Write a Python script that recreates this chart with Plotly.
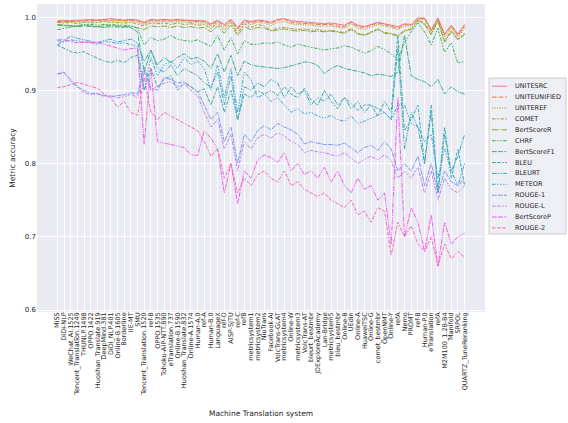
import math
import plotly.graph_objects as go

systems = [
    "MiSS", "DiDi-NLP", "WeChat_AI.1525", "Tencent_Translation.1249", "THUNLP.1498",
    "OPPO.1422", "Huoshan_Translate.919", "DeepMind.381", "DiDi_NLP.401", "Online-B.1605",
    "Borderline", "IIE-MT", "SMU", "Tencent_Translation.1520", "ref-B",
    "OPPO.1535", "Tohoku-AIP-NTT.890", "eTranslation.737", "Online-B.1590", "Huoshan_Translate.832",
    "Online-A.1574", "Human-A.0", "ref-A", "Human-B.0", "LanguageX",
    "ref-D", "AISP-SJTU", "ref-C", "refB", "metricsystem1",
    "metricsystem2", "NiuTrans", "Facebook-AI", "VolcTrans-GLAT", "metricsystem4",
    "Online-W", "metricsystem3", "VolcTrans-AT", "bleurt_bestmbr", "JDExploreAcademy",
    "Lan-Bridge", "metricsystem5", "bleu_bestmbr", "Online-B", "UEdin",
    "Online-A", "HuaweiTSC", "Online-G", "comet_bestmbr", "OpenNMT",
    "Online-Y", "refA", "Nemo", "PROMT", "ref-B",
    "Human-P.0", "eTranslation", "refA", "M2M100_1.2B-B4", "Manifold",
    "SRPOL", "QUARTZ_TuneReranking",
]

unitesrc = [
    .995, .995, .996, .996, .996, .997, .996, .997, .998, .997,
    .996, .997, .996, .993, .997, .996, .997, .996, .997, .996,
    .996, .995, .995, .991, .996, .990, .997, .986, .996, .994,
    .996, .995, .993, .997, .998, .995, .994, .993, .993, .992,
    .991, .992, .990, .989, .994, .989, .987, .990, .993, .991,
    .989, .987, .991, .990, .999, .998, .982, .999, .977, .989,
    .977, .990,
]
uniteunified = [
    .994, .994, .995, .994, .996, .995, .996, .996, .997, .996,
    .995, .996, .995, .992, .996, .995, .996, .995, .996, .995,
    .995, .994, .994, .989, .995, .988, .996, .984, .995, .992,
    .995, .994, .991, .996, .997, .993, .992, .992, .991, .990,
    .990, .990, .988, .987, .993, .987, .986, .989, .992, .990,
    .987, .985, .990, .989, .998, .999, .983, .998, .976, .988,
    .975, .988,
]
uniteref = [
    .993, .993, .994, .993, .994, .994, .995, .995, .995, .994,
    .994, .995, .993, .990, .994, .993, .994, .993, .994, .993,
    .993, .992, .992, .987, .993, .986, .994, .982, .993, .990,
    .993, .992, .988, .993, .994, .991, .990, .990, .989, .988,
    .988, .988, .986, .985, .991, .985, .983, .987, .990, .988,
    .985, .983, .988, .988, .997, .997, .981, .997, .973, .986,
    .973, .985,
]
comet = [
    .993, .992, .993, .991, .993, .992, .993, .994, .993, .992,
    .992, .993, .990, .988, .992, .991, .992, .990, .992, .990,
    .991, .989, .990, .984, .992, .982, .993, .978, .991, .986,
    .990, .988, .982, .985, .986, .984, .983, .984, .982, .983,
    .981, .982, .980, .979, .985, .978, .976, .980, .984, .979,
    .978, .975, .982, .984, .996, .992, .978, .996, .968, .982,
    .970, .978,
]
bertscore_r = [
    .990, .989, .988, .988, .989, .988, .987, .988, .989, .988,
    .987, .988, .986, .983, .988, .987, .988, .986, .988, .986,
    .987, .985, .986, .980, .988, .978, .989, .975, .987, .983,
    .986, .985, .981, .983, .984, .982, .981, .982, .980, .981,
    .980, .981, .979, .978, .983, .977, .975, .979, .983, .978,
    .977, .974, .981, .983, .995, .990, .976, .994, .966, .980,
    .969, .976,
]
chrf = [
    .983, .985, .987, .989, .990, .990, .989, .990, .990, .990,
    .989, .988, .985, .962, .972, .968, .970, .975, .970, .968,
    .967, .969, .965, .960, .975, .955, .972, .950, .968, .963,
    .963, .965, .964, .966, .962, .959, .963, .961, .959, .956,
    .955, .957, .958, .961, .959, .955, .951, .954, .960, .956,
    .950, .941, .965, .980, .992, .980, .962, .985, .952, .965,
    .937, .940,
]
bertscore_f1 = [
    .989, .988, .988, .987, .988, .987, .987, .986, .987, .987,
    .986, .986, .980, .925, .955, .935, .945, .938, .945, .950,
    .943, .945, .940, .930, .950, .925, .948, .920, .940, .935,
    .933, .932, .932, .930, .931, .933, .936, .939, .938, .934,
    .923, .930, .934, .930, .928, .925, .924, .920, .922, .921,
    .919, .925, .975, .920, .915, .912, .905, .915, .895, .905,
    .898, .895,
]
bleu = [
    .962, .958, .953, .951, .953, .948, .944, .940, .938, .941,
    .938, .945, .948, .900, .930, .905, .915, .920, .900, .910,
    .905, .898, .902, .880, .905, .870, .900, .860, .895, .890,
    .900, .895, .900, .893, .905, .895, .890, .903, .887, .880,
    .900, .885, .875, .890, .882, .873, .880, .880, .865, .885,
    .870, .975, .845, .860, .880, .800, .880, .760, .850, .780,
    .820, .770,
]
bleurt = [
    .962, .968, .974, .971, .969, .967, .965, .968, .970, .966,
    .968, .970, .965, .940, .955, .930, .925, .935, .920, .930,
    .925, .920, .910, .905, .925, .880, .920, .860, .905, .900,
    .910, .905, .915, .910, .890, .905, .895, .900, .880, .890,
    .885, .895, .880, .890, .875, .885, .870, .880, .875, .870,
    .860, .960, .820, .870, .850, .800, .870, .760, .840, .790,
    .810, .840,
]
meteor = [
    .968, .966, .969, .968, .967, .965, .963, .967, .966, .964,
    .965, .963, .960, .900, .945, .920, .935, .940, .930, .945,
    .935, .940, .930, .900, .935, .890, .930, .870, .925, .915,
    .890, .895, .885, .890, .880, .870, .875, .868, .870, .865,
    .862, .866, .860, .858, .865, .855, .858, .862, .865, .870,
    .860, .880, .880, .855, .850, .830, .840, .780, .820, .790,
    .770, .800,
]
rouge_1 = [
    .922, .924, .915, .905, .900, .896, .895, .893, .891, .893,
    .894, .897, .895, .932, .903, .900, .918, .915, .910, .912,
    .905, .898, .880, .860, .870, .830, .850, .800, .840, .830,
    .845, .852, .846, .855, .850, .846, .840, .827, .830, .828,
    .826, .826, .825, .828, .822, .815, .822, .825, .818, .830,
    .820, .790, .800, .790, .810, .770, .800, .760, .790, .775,
    .770, .780,
]
rouge_l = [
    .923, .925, .912, .905, .897, .894, .896, .892, .893, .890,
    .891, .895, .890, .925, .900, .905, .910, .912, .905, .909,
    .900, .893, .870, .850, .860, .820, .840, .790, .830, .820,
    .835, .840, .835, .842, .838, .830, .826, .815, .818, .816,
    .815, .812, .810, .815, .808, .800, .806, .810, .805, .812,
    .805, .780, .790, .780, .795, .760, .790, .750, .780, .765,
    .760, .770,
]
bertscore_p = [
    .969, .969, .967, .965, .966, .965, .966, .963, .960, .958,
    .955, .957, .958, .826, .930, .830, .828, .826, .825, .822,
    .812, .811, .845, .835, .820, .760, .800, .745, .790, .780,
    .805, .812, .808, .802, .815, .790, .800, .785, .790, .780,
    .795, .775, .790, .770, .760, .780, .765, .770, .750, .760,
    .690, .890, .700, .740, .720, .680, .730, .660, .720, .690,
    .700, .705,
]
rouge_2 = [
    .904, .905, .908, .911, .908, .906, .903, .895, .890, .877,
    .885, .870, .866, .918, .870, .860, .870, .865, .860, .855,
    .850, .845, .830, .810, .820, .780, .800, .760, .780, .770,
    .785, .790, .780, .775, .790, .770, .775, .765, .760, .755,
    .760, .750, .745, .740, .750, .730, .735, .720, .740, .735,
    .675, .720, .700, .715, .690, .680, .700, .660, .690, .670,
    .680, .672,
]

metric_names = [
    "UNITESRC", "UNITEUNIFIED", "UNITEREF", "COMET", "BertScoreR", "CHRF", "BertScoreF1",
    "BLEU", "BLEURT", "METEOR", "ROUGE-1", "ROUGE-L", "BertScoreP", "ROUGE-2",
]
metric_values = [
    unitesrc, uniteunified, uniteref, comet, bertscore_r, chrf, bertscore_f1,
    bleu, bleurt, meteor, rouge_1, rouge_l, bertscore_p, rouge_2,
]


# --- HUSL palette (same maths as seaborn.husl_palette) ---------------------
_M = [[3.2406, -1.5372, -0.4986], [-0.9689, 1.8758, 0.0415], [0.0557, -0.2040, 1.0570]]
_REF_Y, _REF_U, _REF_V = 1.0, 0.19784, 0.46834
_LAB_E, _LAB_K = 0.008856, 903.3


def _max_chroma(L, H):
    hrad = math.radians(H)
    sin_h, cos_h = math.sin(hrad), math.cos(hrad)
    sub1 = ((L + 16.0) ** 3.0) / 1560896.0
    sub2 = sub1 if sub1 > _LAB_E else L / _LAB_K
    result = float("inf")
    for m1, m2, m3 in _M:
        top = (0.99915 * m1 + 1.05122 * m2 + 1.14460 * m3) * sub2
        rbottom = 0.86330 * m3 - 0.17266 * m2
        lbottom = 0.12949 * m3 - 0.38848 * m1
        bottom = (rbottom * sin_h + lbottom * cos_h) * sub2
        for t in (0.0, 1.0):
            c = L * (top - 1.05122 * t) / (bottom + 0.17266 * sin_h * t)
            if 0.0 < c < result:
                result = c
    return result


def _from_linear(c):
    return 12.92 * c if c <= 0.0031308 else 1.055 * c ** (1 / 2.4) - 0.055


def husl_to_rgb(h, s, l):
    c = _max_chroma(l, h) / 100.0 * s
    hrad = math.radians(h)
    u, v = math.cos(hrad) * c, math.sin(hrad) * c
    t = (l + 16.0) / 116.0
    var_y = t ** 3 if t ** 3 > _LAB_E else (116 * t - 16) / _LAB_K
    var_u = u / (13 * l) + _REF_U
    var_v = v / (13 * l) + _REF_V
    y = var_y * _REF_Y
    x = -(9 * y * var_u) / ((var_u - 4) * var_v - var_u * var_v)
    z = (9 * y - 15 * var_v * y - var_v * x) / (3 * var_v)
    rgb = [_from_linear(r[0] * x + r[1] * y + r[2] * z) for r in _M]
    return tuple(min(max(ch, 0.0), 1.0) for ch in rgb)


def husl_palette(n, h=.01, s=.9, l=.65):
    out = []
    for i in range(n):
        hue = ((i / n + h) % 1) * 359
        r, g, b = husl_to_rgb(hue, s * 99, l * 99)
        out.append("rgb(%d,%d,%d)" % (round(r * 255), round(g * 255), round(b * 255)))
    return out


# seaborn-style dash sequence, expressed in px for plotly
dash_specs = [
    None, (4, 1.5), (1, 1), (3, 1.25, 1.5, 1.25), (5, 1, 1, 1),
    (3, 1.25, 1.25, 1.25, 1.25, 1.25), (4, 1, 4, 1, 1, 1),
    (3, 1.25, 3, 1.25, 1.25, 1.25), (4, 1, 1, 1, 1, 1),
    (3, 1.25, 1.25, 1.25, 1.25, 1.25, 1.25, 1.25), (4, 1, 4, 1, 4, 1, 1, 1),
    (3, 1.25, 3, 1.25, 1.25, 1.25, 1.25, 1.25), (4, 1, 4, 1, 1, 1, 1, 1),
    (3, 1.25, 3, 1.25, 3, 1.25, 1.25, 1.25),
]
DASH_SCALE = 1.2


def dash_string(spec):
    if spec is None:
        return "solid"
    return ",".join("%.2fpx" % (d * DASH_SCALE) for d in spec)


colors = husl_palette(len(metric_names))
x_idx = list(range(len(systems)))

fig = go.Figure()
for name, vals, col, spec in zip(metric_names, metric_values, colors, dash_specs):
    fig.add_trace(go.Scatter(
        x=x_idx, y=vals, name=name, mode="lines", showlegend=False,
        line=dict(color=col, width=1, dash=dash_string(spec)),
    ))

FONT = "DejaVu Sans"
TXT = "#262626"

# plot area in pixels: x 37..485, y 4..312
L_PX, R_PX, T_PX, B_PX = 37, 485, 4, 312


def px_x(p):
    return (p - L_PX) / (R_PX - L_PX)


def px_y(p):
    return (B_PX - p) / (B_PX - T_PX)


# compact legend box drawn in paper coordinates
shapes = [dict(
    type="rect", xref="paper", yref="paper",
    x0=px_x(489), x1=px_x(566), y0=px_y(234), y1=px_y(78),
    fillcolor="rgba(234,234,242,0.8)", line=dict(color="#cccccc", width=1), layer="above",
)]
annotations = []
row0, step = 86.2, 10.9
for k, (name, col, spec) in enumerate(zip(metric_names, colors, dash_specs)):
    yy = px_y(row0 + k * step)
    shapes.append(dict(
        type="line", xref="paper", yref="paper",
        x0=px_x(492), x1=px_x(507), y0=yy, y1=yy,
        line=dict(color=col, width=1, dash=dash_string(spec)), layer="above",
    ))
    annotations.append(dict(
        xref="paper", yref="paper", x=px_x(512.5), y=yy, xanchor="left", yanchor="middle",
        text=name, showarrow=False, font=dict(family=FONT, size=6.5, color=TXT),
    ))

fig.update_layout(
    width=568, height=423,
    margin=dict(l=L_PX, r=568 - R_PX, t=T_PX, b=423 - B_PX),
    plot_bgcolor="#EAEAF2", paper_bgcolor="white",
    font=dict(family=FONT, size=7, color=TXT),
    showlegend=False,
    shapes=shapes, annotations=annotations,
    xaxis=dict(
        range=[-3.05, 64.05], tickmode="array", tickvals=x_idx, ticktext=systems,
        tickangle=-90, tickfont=dict(family=FONT, size=6.5, color=TXT),
        showgrid=True, gridcolor="white", gridwidth=0.8, zeroline=False,
        showline=False, ticks="", ticklabelstandoff=-2,
        title=dict(text="Machine Translation system", font=dict(family=FONT, size=7.5, color=TXT)),
    ),
    yaxis=dict(
        range=[0.5973, 1.018], tickmode="array", tickvals=[0.6, 0.7, 0.8, 0.9, 1.0],
        ticktext=["0.6", "0.7", "0.8", "0.9", "1.0"],
        tickfont=dict(family=FONT, size=7, color=TXT),
        showgrid=True, gridcolor="white", gridwidth=0.8, zeroline=False,
        showline=False, ticks="",
        title=dict(text="Metric accuracy", font=dict(family=FONT, size=7.5, color=TXT), standoff=8),
    ),
)

fig.write_html("out.html")
